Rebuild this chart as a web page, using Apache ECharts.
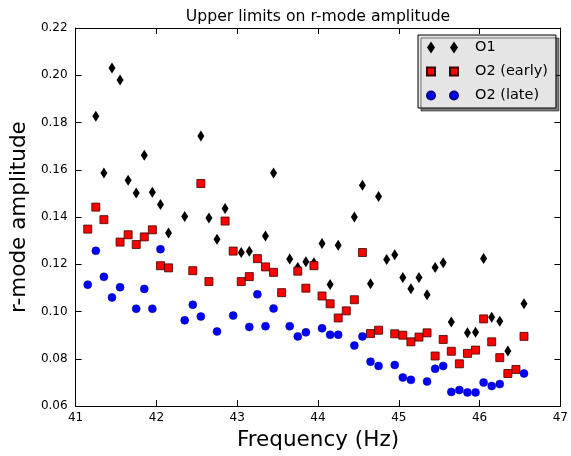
<!DOCTYPE html>
<html>
<head>
<meta charset="utf-8">
<script src="https://cdn.jsdelivr.net/npm/echarts@6/dist/echarts.min.js"></script>
<style>
html,body{margin:0;padding:0;background:#fff;}
#chart{width:571px;height:456px;}
</style>
</head>
<body>
<div id="chart"></div>
<script>
// ---- data ----
const titleText = "Upper limits on r-mode amplitude";
const xAxisTitle = "Frequency (Hz)";
const yAxisTitle = "r-mode amplitude";
const seriesNames = ["O1", "O2 (early)", "O2 (late)"];

const o1Freq = [41.25, 41.35, 41.45, 41.55, 41.65, 41.75, 41.85, 41.95, 42.05, 42.15,
  42.35, 42.55, 42.65, 42.75, 42.85, 43.05, 43.15, 43.35, 43.45, 43.65,
  43.75, 43.85, 43.95, 44.05, 44.15, 44.25, 44.45, 44.55, 44.65, 44.75,
  44.85, 44.95, 45.05, 45.15, 45.25, 45.35, 45.45, 45.55, 45.65, 45.85,
  45.95, 46.05, 46.15, 46.25, 46.35, 46.55];
const o1Vals = [0.1827, 0.1586, 0.2031, 0.1980, 0.1556, 0.1502, 0.1662, 0.1505, 0.1453, 0.1333,
  0.1402, 0.1743, 0.1396, 0.1306, 0.1436, 0.1250, 0.1255, 0.1320, 0.1586, 0.1222,
  0.1187, 0.1211, 0.1207, 0.1288, 0.1115, 0.1281, 0.1400, 0.1535, 0.1118, 0.1487,
  0.1220, 0.1240, 0.1144, 0.1097, 0.1144, 0.1071, 0.1187, 0.1207, 0.0956, 0.0910,
  0.0913, 0.1225, 0.0976, 0.0959, 0.0833, 0.1033];

const o2eFreq = [41.15, 41.25, 41.35, 41.55, 41.65, 41.75, 41.85, 41.95, 42.05, 42.15,
  42.45, 42.55, 42.65, 42.85, 42.95, 43.05, 43.15, 43.25, 43.35, 43.45,
  43.55, 43.75, 43.85, 43.95, 44.05, 44.15, 44.25, 44.35, 44.45, 44.55,
  44.65, 44.75, 44.95, 45.05, 45.15, 45.25, 45.35, 45.45, 45.55, 45.65,
  45.75, 45.85, 45.95, 46.05, 46.15, 46.25, 46.35, 46.45, 46.55];
const o2eVals = [0.1349, 0.1442, 0.1389, 0.1294, 0.1325, 0.1284, 0.1316, 0.1346, 0.1194, 0.1185,
  0.1173, 0.1542, 0.1127, 0.1383, 0.1256, 0.1127, 0.1148, 0.1224, 0.1189, 0.1166,
  0.1080, 0.1171, 0.1099, 0.1194, 0.1066, 0.1033, 0.0973, 0.1003, 0.1050, 0.1250,
  0.0907, 0.0921, 0.0906, 0.0900, 0.0872, 0.0892, 0.0910, 0.0812, 0.0882, 0.0832,
  0.0779, 0.0823, 0.0837, 0.0969, 0.0872, 0.0805, 0.0738, 0.0755, 0.0895];

const o2lFreq = [41.15, 41.25, 41.35, 41.45, 41.55, 41.75, 41.85, 41.95, 42.05, 42.35,
  42.45, 42.55, 42.75, 42.95, 43.15, 43.25, 43.35, 43.45, 43.65, 43.75,
  43.85, 44.05, 44.15, 44.25, 44.45, 44.55, 44.65, 44.75, 44.95, 45.05,
  45.15, 45.35, 45.45, 45.55, 45.65, 45.75, 45.85, 45.95, 46.05, 46.15,
  46.25, 46.55];
const o2lVals = [0.1114, 0.1257, 0.1147, 0.1060, 0.1103, 0.1012, 0.1096, 0.1012, 0.1264, 0.0963,
  0.1029, 0.0979, 0.0916, 0.0983, 0.0935, 0.1073, 0.0938, 0.1013, 0.0938, 0.0895,
  0.0912, 0.0929, 0.0902, 0.0902, 0.0856, 0.0895, 0.0788, 0.0770, 0.0774, 0.0721,
  0.0711, 0.0704, 0.0758, 0.0770, 0.0660, 0.0668, 0.0658, 0.0658, 0.0700, 0.0685,
  0.0693, 0.0738];

const xTicks = [41, 42, 43, 44, 45, 46, 47];
const yTicks = [0.06, 0.08, 0.10, 0.12, 0.14, 0.16, 0.18, 0.20, 0.22];

// ---- chart ----
const pair = (xs, ys) => xs.map((x, i) => [x, ys[i]]);
const FONT = "DejaVu Sans";

const baseX = {
  type: 'value', min: xTicks[0], max: xTicks[xTicks.length - 1], interval: 1,
  axisLine: {show: true, onZero: false, lineStyle: {color: '#000', width: 1}},
  axisTick: {show: true, inside: true, length: 6, lineStyle: {color: '#000'}},
  splitLine: {show: false}
};
const baseY = {
  type: 'value', min: yTicks[0], max: yTicks[yTicks.length - 1], interval: 0.02,
  axisLine: {show: true, onZero: false, lineStyle: {color: '#000', width: 1}},
  axisTick: {show: true, inside: true, length: 6, lineStyle: {color: '#000'}},
  splitLine: {show: false}
};

const chart = echarts.init(document.getElementById('chart'), null, {renderer: 'canvas'});
chart.setOption({
  backgroundColor: '#fff',
  animation: false,
  title: {
    text: titleText, left: 318, top: 9, padding: 0, textAlign: 'center',
    textStyle: {fontFamily: FONT, fontSize: 15.7, fontWeight: 'normal', color: '#000'}
  },
  grid: {left: 70, right: 6, top: 28, bottom: 47, containLabel: false},
  legend: {
    orient: 'vertical', left: 418, top: 35,
    padding: [5, 8, 5, 8], itemGap: 9, itemWidth: 31, itemHeight: 12,
    backgroundColor: '#e5e5e5', borderColor: '#000', borderWidth: 1, borderRadius: 0,
    shadowColor: 'rgba(0,0,0,0.5)', shadowBlur: 0, shadowOffsetX: 3, shadowOffsetY: 3,
    textStyle: {fontFamily: FONT, fontSize: 14.5, color: '#000', padding: [0, 0, 0, 12]},
    data: [
      {name: seriesNames[0], icon: 'path://M0,6L4,0L8,6L4,12Z M23,6L27,0L31,6L27,12Z'},
      {name: seriesNames[1], icon: 'path://M0,2L8,2L8,10L0,10Z M23,2L31,2L31,10L23,10Z'},
      {name: seriesNames[2], icon: 'path://M0,4A4,4,0,1,0,8,4A4,4,0,1,0,0,4Z M23,4A4,4,0,1,0,31,4A4,4,0,1,0,23,4Z'}
    ],
    symbolKeepAspect: true
  },
  xAxis: [
    Object.assign({}, baseX, {
      position: 'bottom',
      name: xAxisTitle, nameLocation: 'middle', nameGap: 20,
      nameTextStyle: {fontFamily: FONT, fontSize: 21.5, color: '#000'},
      axisLabel: {show: true, margin: 6, fontFamily: FONT, fontSize: 12, color: '#000'}
    }),
    Object.assign({}, baseX, {position: 'top', axisLabel: {show: false}})
  ],
  yAxis: [
    Object.assign({}, baseY, {
      position: 'left',
      name: yAxisTitle, nameLocation: 'middle', nameGap: 37,
      nameTextStyle: {fontFamily: FONT, fontSize: 21.5, color: '#000'},
      axisLabel: {show: true, margin: 8, fontFamily: FONT, fontSize: 12, color: '#000',
        formatter: v => v.toFixed(2)}
    }),
    Object.assign({}, baseY, {position: 'right', axisLabel: {show: false}})
  ],
  series: [
    {
      name: seriesNames[0], type: 'scatter', xAxisIndex: 0, yAxisIndex: 0,
      symbol: 'diamond', symbolSize: [7, 11],
      itemStyle: {color: '#000', opacity: 1},
      data: pair(o1Freq, o1Vals), z: 3
    },
    {
      name: seriesNames[1], type: 'scatter', xAxisIndex: 0, yAxisIndex: 0,
      symbol: 'rect', symbolSize: 8,
      itemStyle: {color: '#ff0000', borderColor: '#3a0000', borderWidth: 0.8, opacity: 1},
      data: pair(o2eFreq, o2eVals), z: 4
    },
    {
      name: seriesNames[2], type: 'scatter', xAxisIndex: 0, yAxisIndex: 0,
      symbol: 'circle', symbolSize: 8,
      itemStyle: {color: '#0000ff', borderColor: '#00008a', borderWidth: 0.5, opacity: 1},
      data: pair(o2lFreq, o2lVals), z: 5
    }
  ]
});
</script>
</body>
</html>
